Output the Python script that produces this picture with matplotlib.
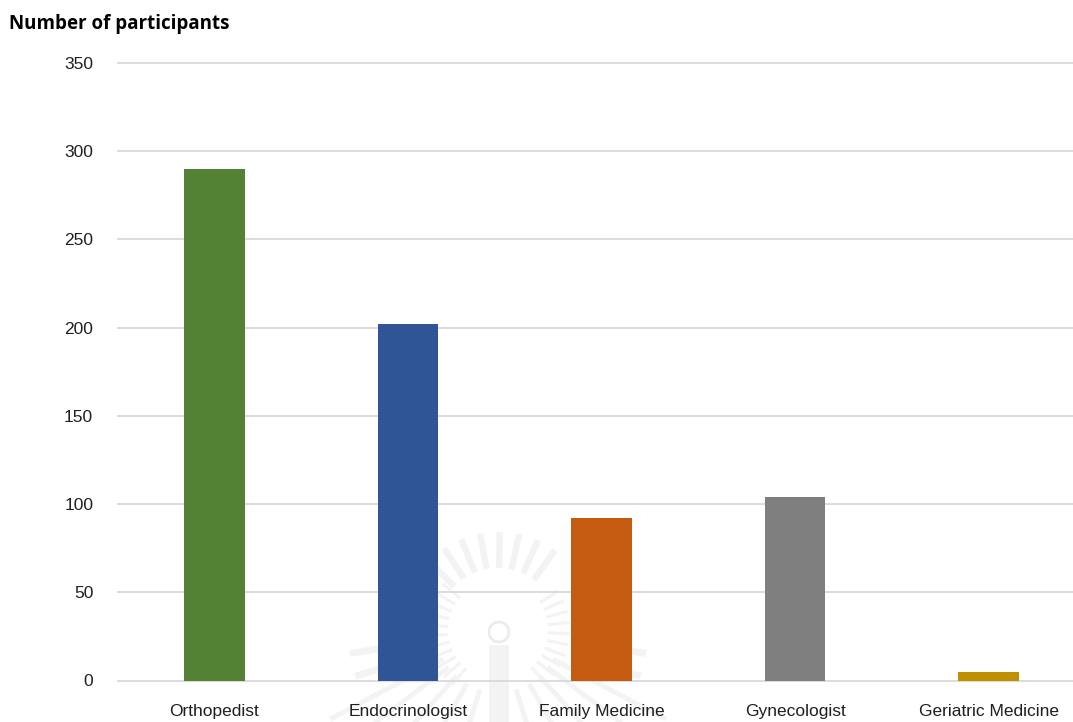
import matplotlib
matplotlib.use("Agg")
import matplotlib.pyplot as plt
from matplotlib.collections import LineCollection
from matplotlib.patches import Circle, Rectangle
from matplotlib.transforms import Affine2D
import numpy as np

specialties = ["Orthopedist", "Endocrinologist", "Family Medicine", "Gynecologist", "Geriatric Medicine"]
participants = [290, 202, 92, 104, 5]
bar_colors = ["#548235", "#2F5597", "#C55A11", "#7F7F7F", "#BF9000"]
y_ticks = [0, 50, 100, 150, 200, 250, 300, 350]

WIDTH, HEIGHT = 1073, 722

plt.rcParams["font.family"] = ["Liberation Sans", "DejaVu Sans"]

fig = plt.figure(figsize=(WIDTH / 100, HEIGHT / 100), dpi=100, facecolor="white")

# plot area runs past the right edge, so the last band is cut off by the figure
left, right, top, bottom = 117.5, 1085.5, 63, 680.5
ax = fig.add_axes([left / WIDTH, 1 - bottom / HEIGHT, (right - left) / WIDTH, (bottom - top) / HEIGHT])
ax.patch.set_alpha(0)


def draw_crest(fig):
    # faint crest behind the lower middle of the plot, laid out in pixels from the top left
    px = Affine2D().scale(1, -1).translate(0, HEIGHT)
    cx, cy = 498, 630
    shade = "#f3f3f3"

    def fan(angles, r0, r1, lw):
        rad = np.radians(angles)
        segs = [[(cx + r0 * np.sin(a), cy - r0 * np.cos(a)), (cx + r1 * np.sin(a), cy - r1 * np.cos(a))] for a in rad]
        fig.add_artist(LineCollection(segs, colors=shade, linewidths=lw, transform=px, zorder=-1))

    fan(np.arange(-45, 46, 11.5), 62, 98, 4.5)              # long upper rays
    fan(np.r_[np.arange(-140, -48, 9), np.arange(57, 141, 9)], 50, 72, 2.2)  # short ring of rays
    fan([-99, -108, 99, 108], 84, 150, 5)                   # side wings
    fan([-118, -127, -138, -150, -163, 118, 127, 138, 150, 163], 62, 190, 3.5)  # lower rays

    fig.add_artist(Circle((cx + 1, cy + 2), 10, fill=False, edgecolor="#ebebeb", linewidth=2, transform=px, zorder=-1))
    fig.add_artist(Rectangle((cx - 9, cy + 15), 20, 80, facecolor=shade, edgecolor="none", transform=px, zorder=-1))


draw_crest(fig)

x = np.arange(len(specialties))
ax.bar(x, participants, width=0.313, color=bar_colors, zorder=3)

ax.set_xlim(-0.5, len(specialties) - 0.5)
ax.set_ylim(0, 350)
ax.set_yticks(y_ticks)
ax.set_xticks(x)
ax.set_xticklabels(specialties)
ax.tick_params(axis="both", length=0, labelsize=12.5, colors="#1f1f1f")
ax.tick_params(axis="y", pad=17.5)
ax.tick_params(axis="x", pad=17)
ax.grid(axis="y", color="#D9D9D9", linewidth=1.3, zorder=0)
ax.set_axisbelow(True)
for gridline in ax.get_ygridlines():
    gridline.set_clip_on(False)
for spine in ax.spines.values():
    spine.set_visible(False)

fig.text(9 / WIDTH, 1 - 24.5 / HEIGHT, "Number of participants", fontsize=13.5, fontweight="bold",
         family="Open Sans", color="black", ha="left", va="center")

fig.savefig("out.png", dpi=100, facecolor="white")
